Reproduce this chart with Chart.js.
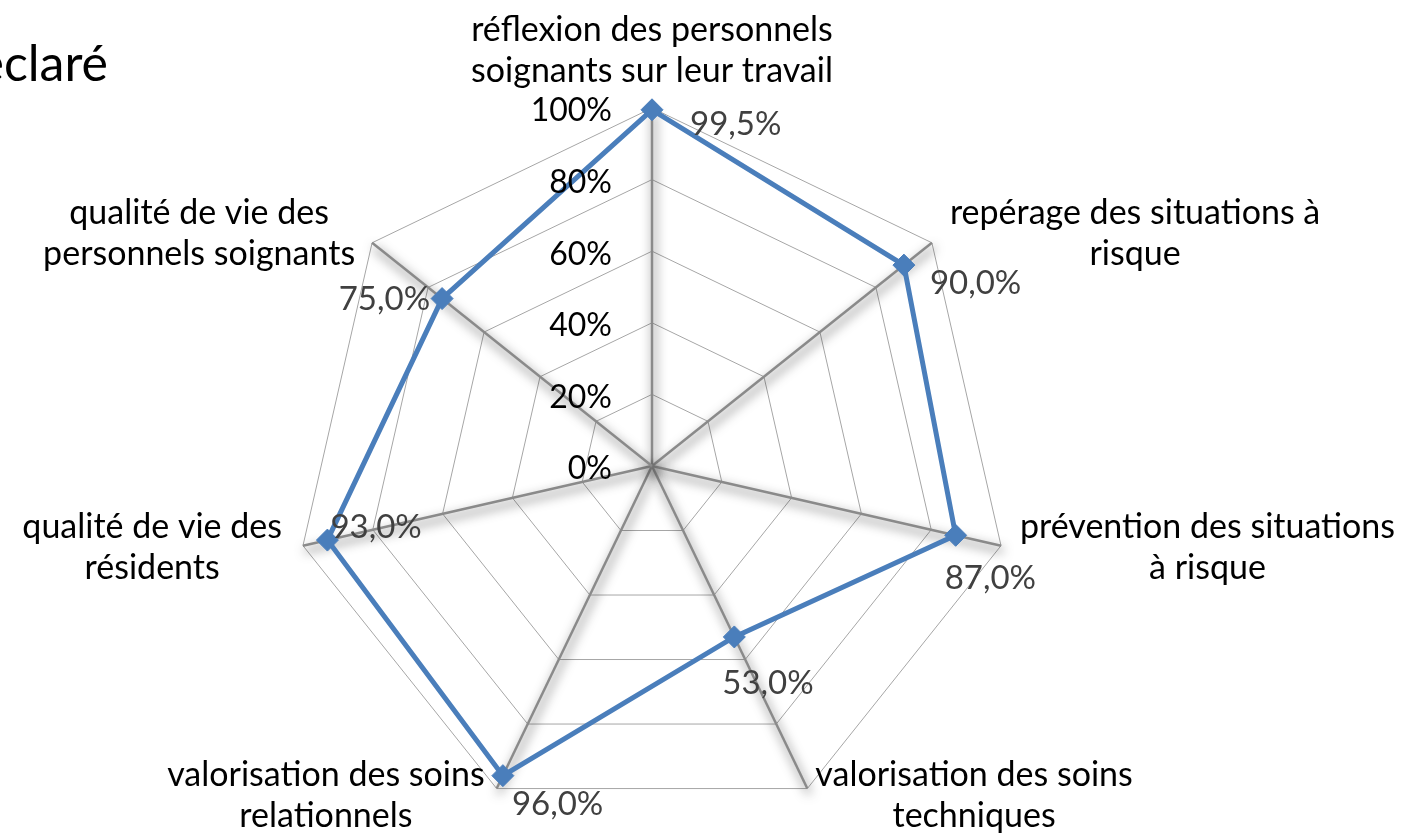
<!DOCTYPE html>
<html>
<head>
<meta charset="utf-8">
<script src="https://cdn.jsdelivr.net/npm/chart.js@4.4.0/dist/chart.umd.min.js"></script>
<style>
  html, body { margin: 0; padding: 0; background: #fff; overflow: hidden; }
  #wrap { width: 1417px; height: 834px; position: relative; }
</style>
</head>
<body>
<div id="wrap"><canvas id="radarChart"></canvas></div>
<script>
  // categories (clockwise from the top), values in %, printed labels
  const categories = [
    ['réflexion des personnels', 'soignants sur leur travail'],
    ['repérage des situations à', 'risque'],
    ['prévention des situations', 'à risque'],
    ['valorisation des soins', 'techniques'],
    ['valorisation des soins', 'relationnels'],
    ['qualité de vie des', 'résidents'],
    ['qualité de vie des', 'personnels soignants']
  ];
  const values = [99.5, 90, 87, 53, 96, 93, 75];
  const valueLabels = ['99,5%', '90,0%', '87,0%', '53,0%', '96,0%', '93,0%', '75,0%'];
  const tickValues = [0, 20, 40, 60, 80, 100];
  const tickLabels = ['0%', '20%', '40%', '60%', '80%', '100%'];

  const FONT = 'Lato, "Open Sans", sans-serif';
  const blue = '#4a7ebb';

  // where each category label sits next to its outer vertex
  // side: 0 centred above, 1 block starts right of vertex, -1 block ends left of vertex
  const labelPlace = [
    { side: 0, dx: 0, dy: -78 },
    { side: 1, dx: 18, dy: -30 },
    { side: 1, dx: 19, dy: -19 },
    { side: 1, dx: 8, dy: -14 },
    { side: -1, dx: -12, dy: -14 },
    { side: -1, dx: -21, dy: -19 },
    { side: -1, dx: -17, dy: -30 }
  ];
  // value label offsets from the data point
  const valuePlace = [
    { align: 'left', dx: 38, dy: 15 },
    { align: 'left', dx: 26, dy: 18 },
    { align: 'left', dx: -11, dy: 43 },
    { align: 'left', dx: -12, dy: 46 },
    { align: 'left', dx: 9, dy: 29 },
    { align: 'left', dx: 3, dy: -13 },
    { align: 'right', dx: -12, dy: 1 }
  ];

  const spokes = {
    id: 'spokes',
    beforeDatasetsDraw(chart) {
      const r = chart.scales.r;
      const ctx = chart.ctx;
      ctx.save();
      ctx.strokeStyle = '#8a8a8a';
      ctx.lineWidth = 2.5;
      ctx.shadowColor = 'rgba(0,0,0,0.75)';
      ctx.shadowBlur = 11;
      ctx.shadowOffsetX = 2;
      ctx.shadowOffsetY = 5;
      for (let i = 0; i < categories.length; i++) {
        const p = r.getPointPositionForValue(i, 100);
        ctx.beginPath();
        ctx.moveTo(r.xCenter, r.yCenter);
        ctx.lineTo(p.x, p.y);
        ctx.stroke();
      }
      ctx.restore();
    }
  };

  const texts = {
    id: 'texts',
    afterDraw(chart) {
      const r = chart.scales.r;
      const ctx = chart.ctx;
      ctx.save();

      // cut title at top left
      ctx.fillStyle = '#000';
      ctx.font = '50px ' + FONT;
      ctx.textAlign = 'right';
      ctx.textBaseline = 'alphabetic';
      ctx.fillText('déclaré', 108, 81);

      // tick labels on the left of the top spoke
      ctx.font = '32px ' + FONT;
      ctx.textBaseline = 'middle';
      ctx.textAlign = 'right';
      tickValues.forEach((v, i) => {
        const y = r.getDistanceFromCenterForValue(v);
        ctx.fillText(tickLabels[i], r.xCenter - 40, r.yCenter - y + 3);
      });

      // category labels
      ctx.font = '34px ' + FONT;
      const lh = 41;
      categories.forEach((lines, i) => {
        const p = r.getPointPositionForValue(i, 100);
        const pl = labelPlace[i];
        const w = Math.max(...lines.map(l => ctx.measureText(l).width));
        let cx;
        if (pl.side === 0) cx = p.x + pl.dx;
        else if (pl.side > 0) cx = p.x + pl.dx + w / 2;
        else cx = p.x + pl.dx - w / 2;
        ctx.textAlign = 'center';
        const y0 = p.y + pl.dy;
        lines.forEach((l, k) => ctx.fillText(l, cx, y0 + k * lh));
      });

      // value labels
      ctx.fillStyle = '#404040';
      ctx.font = '33px ' + FONT;
      const meta = chart.getDatasetMeta(0);
      meta.data.forEach((pt, i) => {
        const vp = valuePlace[i];
        ctx.textAlign = vp.align;
        ctx.fillText(valueLabels[i], pt.x + vp.dx, pt.y + vp.dy);
      });
      ctx.restore();
    }
  };

  const ctx = document.getElementById('radarChart').getContext('2d');
  new Chart(ctx, {
    type: 'radar',
    data: {
      labels: categories,
      datasets: [{
        data: values,
        borderColor: blue,
        backgroundColor: blue,
        borderWidth: 5,
        fill: false,
        pointStyle: 'rectRot',
        pointRadius: 11,
        pointHoverRadius: 11,
        pointBackgroundColor: blue,
        pointBorderColor: blue,
        pointBorderWidth: 1
      }]
    },
    options: {
      responsive: true,
      maintainAspectRatio: false,
      animation: false,
      layout: {
        padding: { left: 294, right: 407, top: 108, bottom: 10 }
      },
      plugins: {
        legend: { display: false },
        tooltip: { enabled: false }
      },
      scales: {
        r: {
          min: 0,
          max: 100,
          ticks: { display: false, stepSize: 20 },
          grid: { color: '#a6a6a6', lineWidth: 1, circular: false },
          angleLines: { display: false },
          pointLabels: { display: false }
        }
      }
    },
    plugins: [spokes, texts]
  });
</script>
</body>
</html>
